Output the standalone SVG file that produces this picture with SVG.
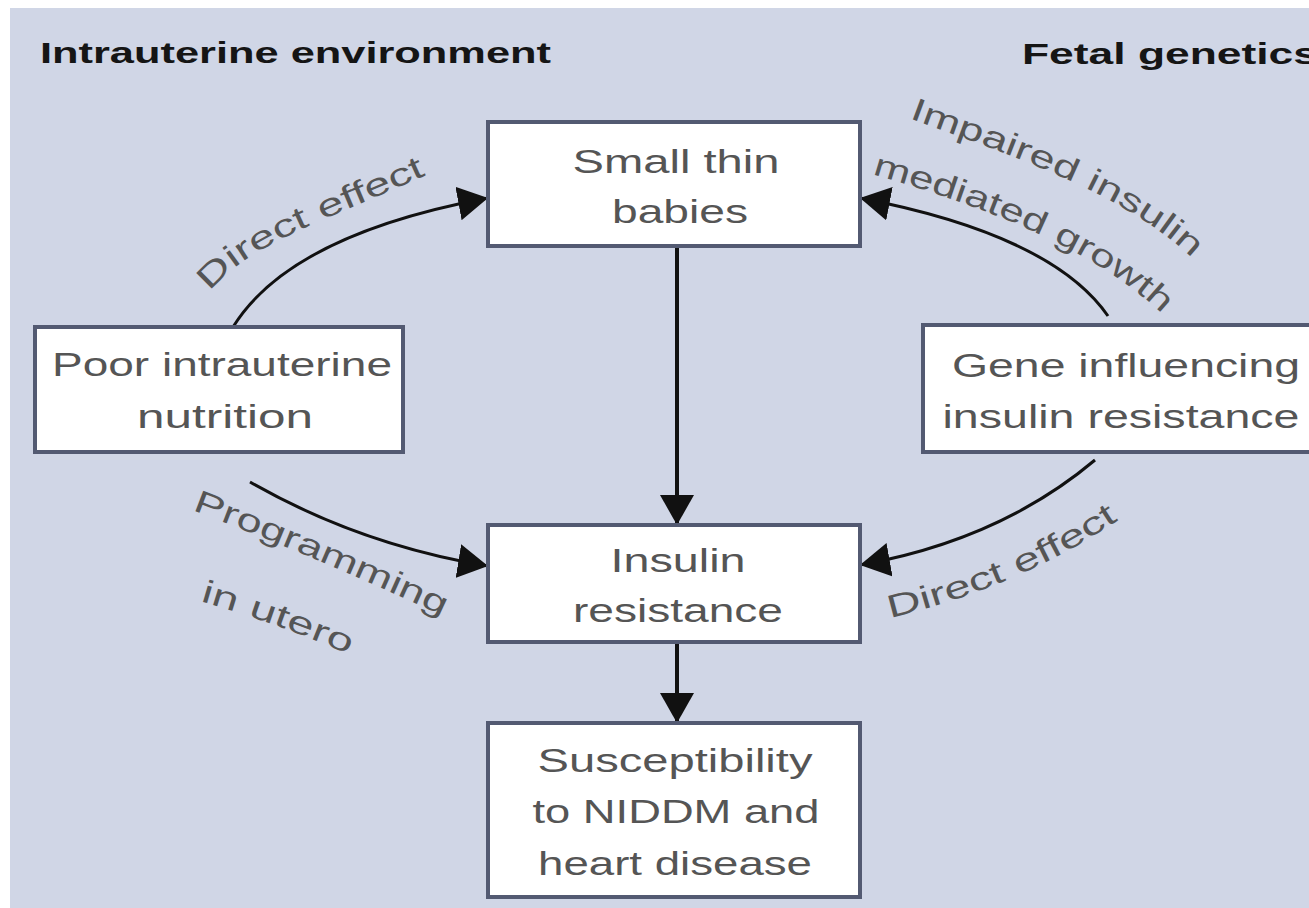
<svg xmlns="http://www.w3.org/2000/svg" width="1309" height="908" viewBox="0 0 1309 908">
  <style>
    .bg { fill: #d0d6e6; }
    .box { fill: #ffffff; stroke: #535a72; stroke-width: 4; }
    .lbl { font-family: "Liberation Sans", Arial, sans-serif; font-size: 33px; fill: #555555; text-anchor: middle; }
    .curv { font-family: "Liberation Sans", Arial, sans-serif; font-size: 32px; fill: #555555; }
    .title { font-family: "Liberation Sans", Arial, sans-serif; font-size: 29px; font-weight: bold; fill: #151515; }
    .conn { fill: none; stroke: #111111; stroke-width: 3; }
    .conn-v { fill: none; stroke: #111111; stroke-width: 4; }
  </style>
  <defs>
    <marker id="head" markerUnits="userSpaceOnUse" markerWidth="30" markerHeight="34" refX="30" refY="17" orient="auto">
      <path d="M0,0 L30,17 L0,34 z" fill="#111111"/>
    </marker>
    <!-- baselines for the curved labels -->
    <path id="p-direct-left" d="M 210 292 C 246 243 344 214 437 170"/>
    <path id="p-impaired" d="M 909 118 C 994 150 1124 190 1196 262"/>
    <path id="p-mediated" d="M 872 174 C 950 197 1080 237 1160 312"/>
    <path id="p-programming" d="M 192 510 Q 320 558 455 622"/>
    <path id="p-utero" d="M 200 601 Q 280 624 357 658"/>
    <path id="p-direct-right" d="M 890 618 Q 1030 585 1140 505"/>
  </defs>

  <!-- page -->
  <rect x="0" y="0" width="1309" height="908" fill="#ffffff"/>
  <rect class="bg" x="10" y="8" width="1299" height="900"/>

  <!-- column headings -->
  <text class="title" x="40" y="63" textLength="511" lengthAdjust="spacingAndGlyphs">Intrauterine environment</text>
  <text class="title" x="1022" y="64" textLength="296" lengthAdjust="spacingAndGlyphs">Fetal genetics</text>

  <!-- connectors -->
  <g id="connectors">
    <path class="conn" d="M 233 327 Q 290 235 488 198" marker-end="url(#head)"/>
    <path class="conn" d="M 1108 316 Q 1052 235 860 198" marker-end="url(#head)"/>
    <path class="conn" d="M 250 482 Q 360 545 488 566" marker-end="url(#head)"/>
    <path class="conn" d="M 1095 460 Q 1000 540 860 565" marker-end="url(#head)"/>
    <path class="conn-v" d="M 677 246 L 677 525" marker-end="url(#head)"/>
    <path class="conn-v" d="M 677 642 L 677 723" marker-end="url(#head)"/>
  </g>

  <!-- connector labels -->
  <g id="connector-labels">
    <text class="curv"><textPath href="#p-direct-left" textLength="248" lengthAdjust="spacingAndGlyphs">Direct effect</textPath></text>
    <text class="curv"><textPath href="#p-impaired" textLength="318" lengthAdjust="spacingAndGlyphs">Impaired insulin</textPath></text>
    <text class="curv"><textPath href="#p-mediated" textLength="325" lengthAdjust="spacingAndGlyphs">mediated growth</textPath></text>
    <text class="curv"><textPath href="#p-programming" textLength="272" lengthAdjust="spacingAndGlyphs">Programming</textPath></text>
    <text class="curv"><textPath href="#p-utero" textLength="158" lengthAdjust="spacingAndGlyphs">in utero</textPath></text>
    <text class="curv"><textPath href="#p-direct-right" textLength="250" lengthAdjust="spacingAndGlyphs">Direct effect</textPath></text>
  </g>

  <!-- nodes -->
  <g id="small-thin-babies">
    <rect class="box" x="488" y="122" width="372" height="124"/>
    <text class="lbl" x="676" y="173" textLength="207" lengthAdjust="spacingAndGlyphs">Small thin</text>
    <text class="lbl" x="680" y="223" textLength="136" lengthAdjust="spacingAndGlyphs">babies</text>
  </g>

  <g id="poor-nutrition">
    <rect class="box" x="35" y="327" width="368" height="125"/>
    <text class="lbl" x="222" y="376" textLength="340" lengthAdjust="spacingAndGlyphs">Poor intrauterine</text>
    <text class="lbl" x="225" y="428" textLength="176" lengthAdjust="spacingAndGlyphs">nutrition</text>
  </g>

  <g id="gene-influencing">
    <rect class="box" x="923" y="325" width="404" height="127"/>
    <text class="lbl" x="1126" y="377" textLength="348" lengthAdjust="spacingAndGlyphs">Gene influencing</text>
    <text class="lbl" x="1121" y="428" textLength="357" lengthAdjust="spacingAndGlyphs">insulin resistance</text>
  </g>

  <g id="insulin-resistance">
    <rect class="box" x="488" y="525" width="372" height="117"/>
    <text class="lbl" x="678" y="572" textLength="135" lengthAdjust="spacingAndGlyphs">Insulin</text>
    <text class="lbl" x="678" y="622" textLength="210" lengthAdjust="spacingAndGlyphs">resistance</text>
  </g>

  <g id="susceptibility">
    <rect class="box" x="488" y="723" width="372" height="174"/>
    <text class="lbl" x="675" y="772" textLength="275" lengthAdjust="spacingAndGlyphs">Susceptibility</text>
    <text class="lbl" x="676" y="823" textLength="287" lengthAdjust="spacingAndGlyphs">to NIDDM and</text>
    <text class="lbl" x="675" y="875" textLength="274" lengthAdjust="spacingAndGlyphs">heart disease</text>
  </g>
</svg>
